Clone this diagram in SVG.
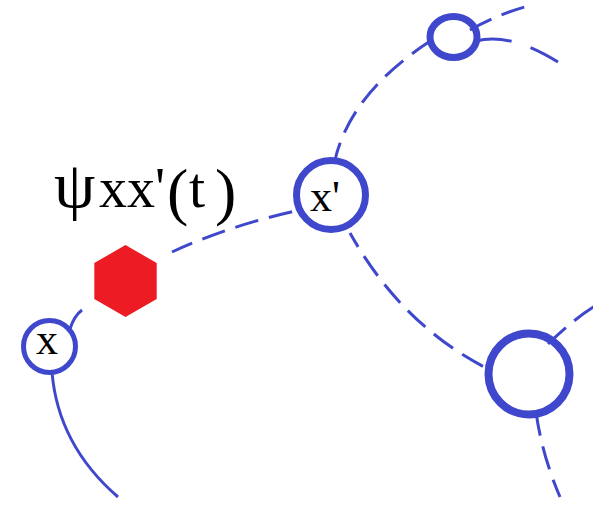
<svg xmlns="http://www.w3.org/2000/svg" width="593" height="515" viewBox="0 0 593 515">
<style>
.node{fill:none;stroke:#3F48CC}
.c{fill:none;stroke:#3F48CC;stroke-width:3;stroke-linecap:butt}
.d{stroke-dasharray:24 11}
.t{font-family:"Liberation Serif","Times New Roman",serif;fill:#000}
</style>
<rect width="593" height="515" fill="#fff"/>
<g id="connectors">
<path class="c" d="M52 372 Q58 445 118 497"/>
<path class="c" d="M70 329 Q74 316 82 310"/>
<path class="c d" d="M172 252 Q232 224.5 300 210" stroke-dashoffset="2"/>
<path class="c d" d="M335 160 Q351 92 432 40" stroke-dashoffset="6"/>
<path class="c d" d="M350 233 Q402 326 490 370" stroke-dashoffset="8"/>
<path class="c d" d="M470 30 Q500 13 532 5" stroke-dasharray="24 14"/>
<path class="c" d="M476 41 Q510 32 558 62" stroke-dasharray="36 20"/>
<path class="c d" d="M548 344 Q575 318 595 306" stroke-dasharray="22 10"/>
<path class="c d" d="M536 412 Q542 455 560 497" stroke-dasharray="28 11"/>
</g>
<g id="hex">
<polygon points="125.5,245 156.7,263 156.7,299 125.5,317 94.3,299 94.3,263" fill="#ED1C24"/>
</g>
<g id="label">
<text class="t" y="207"><tspan x="54" font-size="66">ψ</tspan><tspan x="99" font-size="56">xx'</tspan><tspan x="167" y="213" font-size="64">(</tspan><tspan x="189" y="207" font-size="58">t</tspan><tspan x="215" y="213" font-size="64">)</tspan></text>
</g>
<g id="node-x">
<circle class="node" cx="49.5" cy="346.5" r="26" stroke-width="5" fill="#fff"/>
<text class="t" x="36" y="354" font-size="44">x</text>
</g>
<g id="node-xp">
<circle class="node" cx="331" cy="195" r="34.5" stroke-width="7" fill="#fff"/>
<text class="t" x="310" y="211" font-size="44">x'</text>
</g>
<g id="node-top">
<ellipse class="node" cx="453.5" cy="37" rx="23.5" ry="20.5" stroke-width="7" fill="#fff"/>
</g>
<g id="node-br">
<circle class="node" cx="529" cy="374" r="40.5" stroke-width="8" fill="#fff"/>
</g>
</svg>
